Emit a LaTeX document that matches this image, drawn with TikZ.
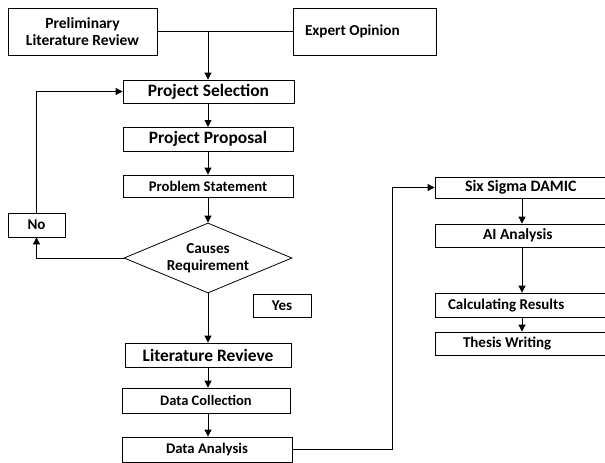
\documentclass[tikz,border=0pt]{standalone}
\usepackage{fontspec}
\setmainfont{Carlito}
\usetikzlibrary{shapes.geometric,arrows.meta}
\tikzset{
  box/.style={draw, rectangle, inner sep=1pt, align=center, font=\bfseries\fontsize{15}{17}\selectfont},
  bigbox/.style={box, font=\bfseries\fontsize{17.4}{19}\selectfont},
  leftbox/.style={box, align=flush left, inner xsep=#1},
  decide/.style={draw, diamond, aspect=2.4, inner sep=0pt, align=center, font=\bfseries\fontsize{15.2}{17.5}\selectfont},
  flow/.style={-{Triangle[length=7pt,width=7pt]}},
}
\begin{document}
\begin{tikzpicture}[x=1pt, y=-1pt, line width=0.8pt]
      \useasboundingbox (0,0) rectangle (605,463);
      \clip (0,0) rectangle (605,463);
      \draw
        (82.5,31.5) node[box, font=\bfseries\fontsize{15.5}{17.5}\selectfont, minimum width=149, minimum height=47] (prelim){Preliminary\\Literature Review}
        (364.5,31.5) node[leftbox=12, text width=119, font=\bfseries\fontsize{15.2}{17}\selectfont, minimum height=47] (expert){Expert Opinion}
        (208.5,91.5) node[bigbox, minimum width=171, minimum height=23] (select){Project Selection}
        (208,139) node[bigbox, minimum width=170, minimum height=24] (proposal){Project Proposal}
        (208,186) node[box, font=\bfseries\fontsize{14.7}{17}\selectfont, minimum width=170, minimum height=22] (problem){Problem Statement}
        (208,258) node[decide, minimum width=168, minimum height=70] (causes){Causes\\Requirement}
        (36.5,225) node[box, minimum width=57, minimum height=24] (no){No}
        (282,305.5) node[box, minimum width=58, minimum height=23] (yes){Yes}
        (208,355) node[bigbox, minimum width=166, minimum height=24] (litrev){Literature Revieve}
        (206,400.5) node[box, font=\bfseries\fontsize{14.5}{17}\selectfont, minimum width=168, minimum height=25] (collect){Data Collection}
        (207,449.5) node[box, font=\bfseries\fontsize{14.7}{17}\selectfont, minimum width=170, minimum height=25] (analysis){Data Analysis}
        (522.5,187.5) node[leftbox=30, text width=115, font=\bfseries\fontsize{15.9}{17}\selectfont, minimum height=21] (damic){Six Sigma DAMIC}
        (522.5,235.5) node[leftbox=48, text width=79, font=\bfseries\fontsize{15.5}{17}\selectfont, minimum height=23] (ai){AI Analysis}
        (522.5,305) node[leftbox=13, text width=149, minimum height=24] (calc){Calculating Results}
        (522.5,343.5) node[leftbox=28, text width=119, minimum height=23] (thesis){Thesis Writing};
      \coordinate (join) at (208,31.5);
      \coordinate (bend) at (392,449.5);
      \draw (prelim) -- (expert);
      \begin{scope}[flow]
        \draw (join) -- (select.north -| join);
        \draw (208,103) -- (208,127);
        \draw (proposal.south -| 208,0) -- (problem.north -| 208,0);
        \draw (problem.south -| 208,0) -- (causes.north);
        \draw (causes.west) -| (no.south);
        \draw (no.north) |- (select.west);
        \draw (causes.south) -- (litrev.north);
        \draw (litrev.south) -- (collect.north -| litrev.south);
        \draw (collect.south -| litrev.south) -- (analysis.north -| litrev.south);
        \draw (analysis.east) -- (bend) |- (damic.west);
        \draw (damic.south -| 522,0) -- (ai.north -| 522,0);
        \draw (ai.south -| 522,0) -- (calc.north -| 522,0);
        \draw (calc.south -| 522,0) -- (thesis.north -| 522,0);
      \end{scope}
    \end{tikzpicture}
\end{document}
